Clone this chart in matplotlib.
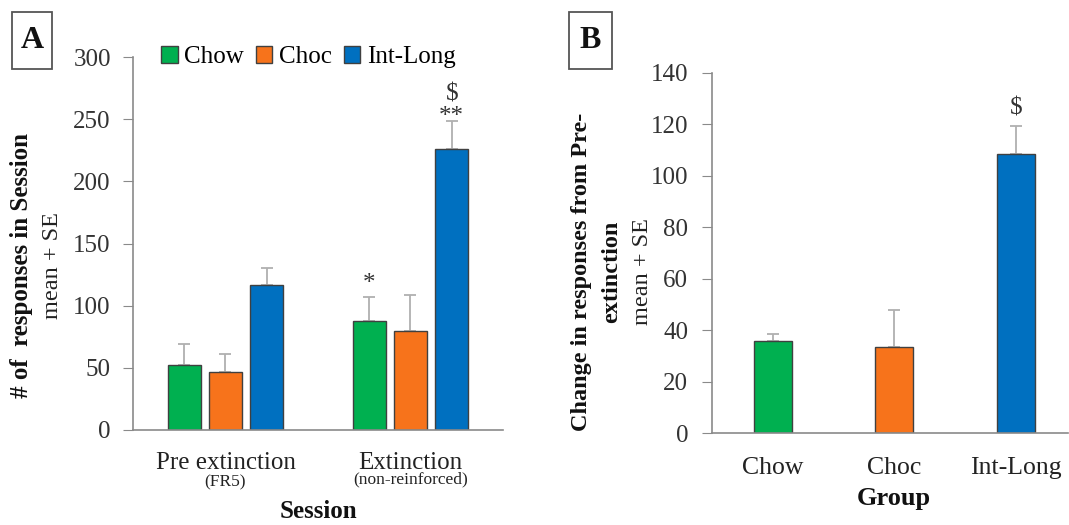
import matplotlib
matplotlib.use("Agg")
import matplotlib.pyplot as plt
from matplotlib.patches import Rectangle
import numpy as np

plt.rcParams['font.family'] = ['Liberation Serif', 'DejaVu Serif']

# ---- data ----
groups = ["Chow", "Choc", "Int-Long"]
colors = ["#00B050", "#F7731B", "#0070C0"]
sessions = ["Pre extinction", "Extinction"]
session_sub = ["(FR5)", "(non-reinforced)"]
a_means = {"Chow": [52, 88], "Choc": [47, 80], "Int-Long": [117, 226]}
a_se = {"Chow": [17, 19], "Choc": [14, 29], "Int-Long": [13, 23]}
a_yticks = [0, 50, 100, 150, 200, 250, 300]

b_means = [36, 33.5, 108.5]
b_se = [2.5, 14.5, 11]
b_yticks = [0, 20, 40, 60, 80, 100, 120, 140]

W, H = 1069, 525
fig = plt.figure(figsize=(W / 100, H / 100), dpi=100)

spine_col = "#8a8a8a"
err_col = "#b0b0b0"
edge_col = "#404040"
tick_fs = 18
lab_fs = 18

def fx(px):
    return px / W

def fy(py):
    return 1 - py / H

# ---- Panel A ----
axA = fig.add_axes([0.1244, 0.181, 0.3461, 0.710])
x = np.arange(len(sessions))
bw = 0.177
step = 0.223
for i, g in enumerate(groups):
    pos = x + (i - 1) * step
    axA.bar(pos, a_means[g], width=bw, color=colors[i], edgecolor=edge_col,
            linewidth=1.0, label=g, zorder=2)
    axA.errorbar(pos, a_means[g], yerr=[np.zeros(2), a_se[g]], fmt="none",
                 ecolor=err_col, elinewidth=1.3, capsize=4, capthick=1.3, zorder=1)
axA.set_xlim(-0.5, 1.5)
axA.set_ylim(0, 300)
axA.set_yticks(a_yticks)
axA.set_xticks([])
for s in ["top", "right"]:
    axA.spines[s].set_visible(False)
for s in ["left", "bottom"]:
    axA.spines[s].set_color(spine_col)
    axA.spines[s].set_linewidth(1.2)
axA.tick_params(axis="y", length=7, color=spine_col, labelsize=tick_fs,
                labelcolor="#333333", pad=9)

# annotations
chow_ext = x[1] - step
il_ext = x[1] + step
axA.text(chow_ext, 109, "*", ha="center", va="bottom", fontsize=18, color="#333333")
axA.text(il_ext, 243, "$\n**", ha="center", va="bottom", fontsize=18,
         linespacing=1.02, color="#333333")

# session labels
for xi, main in zip(x, sessions):
    axA.text(xi, -26.5, main, ha="center", va="center", fontsize=lab_fs, color="#222222")
axA.text(x[0], -42, session_sub[0], ha="center", va="center", fontsize=12.5, color="#222222")
axA.text(x[1], -39.5, session_sub[1], ha="center", va="center", fontsize=12.5, color="#222222")
axA.text(0.5, -66, "Session", ha="center", va="center", fontsize=18,
         fontweight="bold", color="#111111")

axA.legend(loc="center left", bbox_to_anchor=(0.077, 1.0), ncol=3,
           frameon=False, fontsize=tick_fs, handlelength=0.65,
           handleheight=0.65, handletextpad=0.27, columnspacing=0.48,
           borderpad=0, borderaxespad=0)

fig.text(fx(22), 0.495, "# of  responses in Session", rotation=90, ha="center",
         va="center", fontsize=18, fontweight="bold", color="#111111")
fig.text(fx(52), 0.495, "mean + SE", rotation=90, ha="center", va="center",
         fontsize=17.5, color="#222222")

# panel label boxes
fig.patches.append(Rectangle((fx(12), fy(69)), fx(40), 57 / H, transform=fig.transFigure,
                             fc="white", ec="#555555", lw=1.3))
fig.text(fx(32), fy(41), "A", ha="center", va="center", fontsize=23,
         fontweight="bold", color="#111111")

# ---- Panel B ----
axB = fig.add_axes([0.666, 0.175, 0.333, 0.686])
xb = np.arange(len(groups))
axB.bar(xb, b_means, width=0.31, color=colors, edgecolor=edge_col,
        linewidth=1.0, zorder=2)
axB.errorbar(xb, b_means, yerr=[np.zeros(3), b_se], fmt="none", ecolor=err_col,
             elinewidth=1.3, capsize=4, capthick=1.3, zorder=1)
axB.set_xlim(-0.5, 2.43)
axB.set_ylim(0, 140)
axB.set_yticks(b_yticks)
axB.set_xticks(xb)
axB.set_xticklabels(groups)
for s in ["top", "right"]:
    axB.spines[s].set_visible(False)
for s in ["left", "bottom"]:
    axB.spines[s].set_color(spine_col)
    axB.spines[s].set_linewidth(1.2)
axB.tick_params(axis="y", length=7, color=spine_col, labelsize=tick_fs,
                labelcolor="#333333", pad=10)
axB.tick_params(axis="x", length=0, labelsize=18.5, labelcolor="#222222", pad=17)
axB.text(xb[2], 122, "$", ha="center", va="bottom", fontsize=18, color="#333333")
fig.text(fx(894), fy(498), "Group", ha="center", va="center", fontsize=19,
         fontweight="bold", color="#111111")

fig.text(fx(582), 0.482, "Change in responses from Pre-", rotation=90, ha="center",
         va="center", fontsize=17.5, fontweight="bold", color="#111111")
fig.text(fx(612), 0.482, "extinction", rotation=90, ha="center", va="center",
         fontsize=17.5, fontweight="bold", color="#111111")
fig.text(fx(642), 0.482, "mean + SE", rotation=90, ha="center", va="center",
         fontsize=17.5, color="#222222")

fig.patches.append(Rectangle((fx(569), fy(69)), fx(43), 57 / H, transform=fig.transFigure,
                             fc="white", ec="#555555", lw=1.3))
fig.text(fx(590.5), fy(41), "B", ha="center", va="center", fontsize=23,
         fontweight="bold", color="#111111")

fig.savefig("out.png", dpi=100)
